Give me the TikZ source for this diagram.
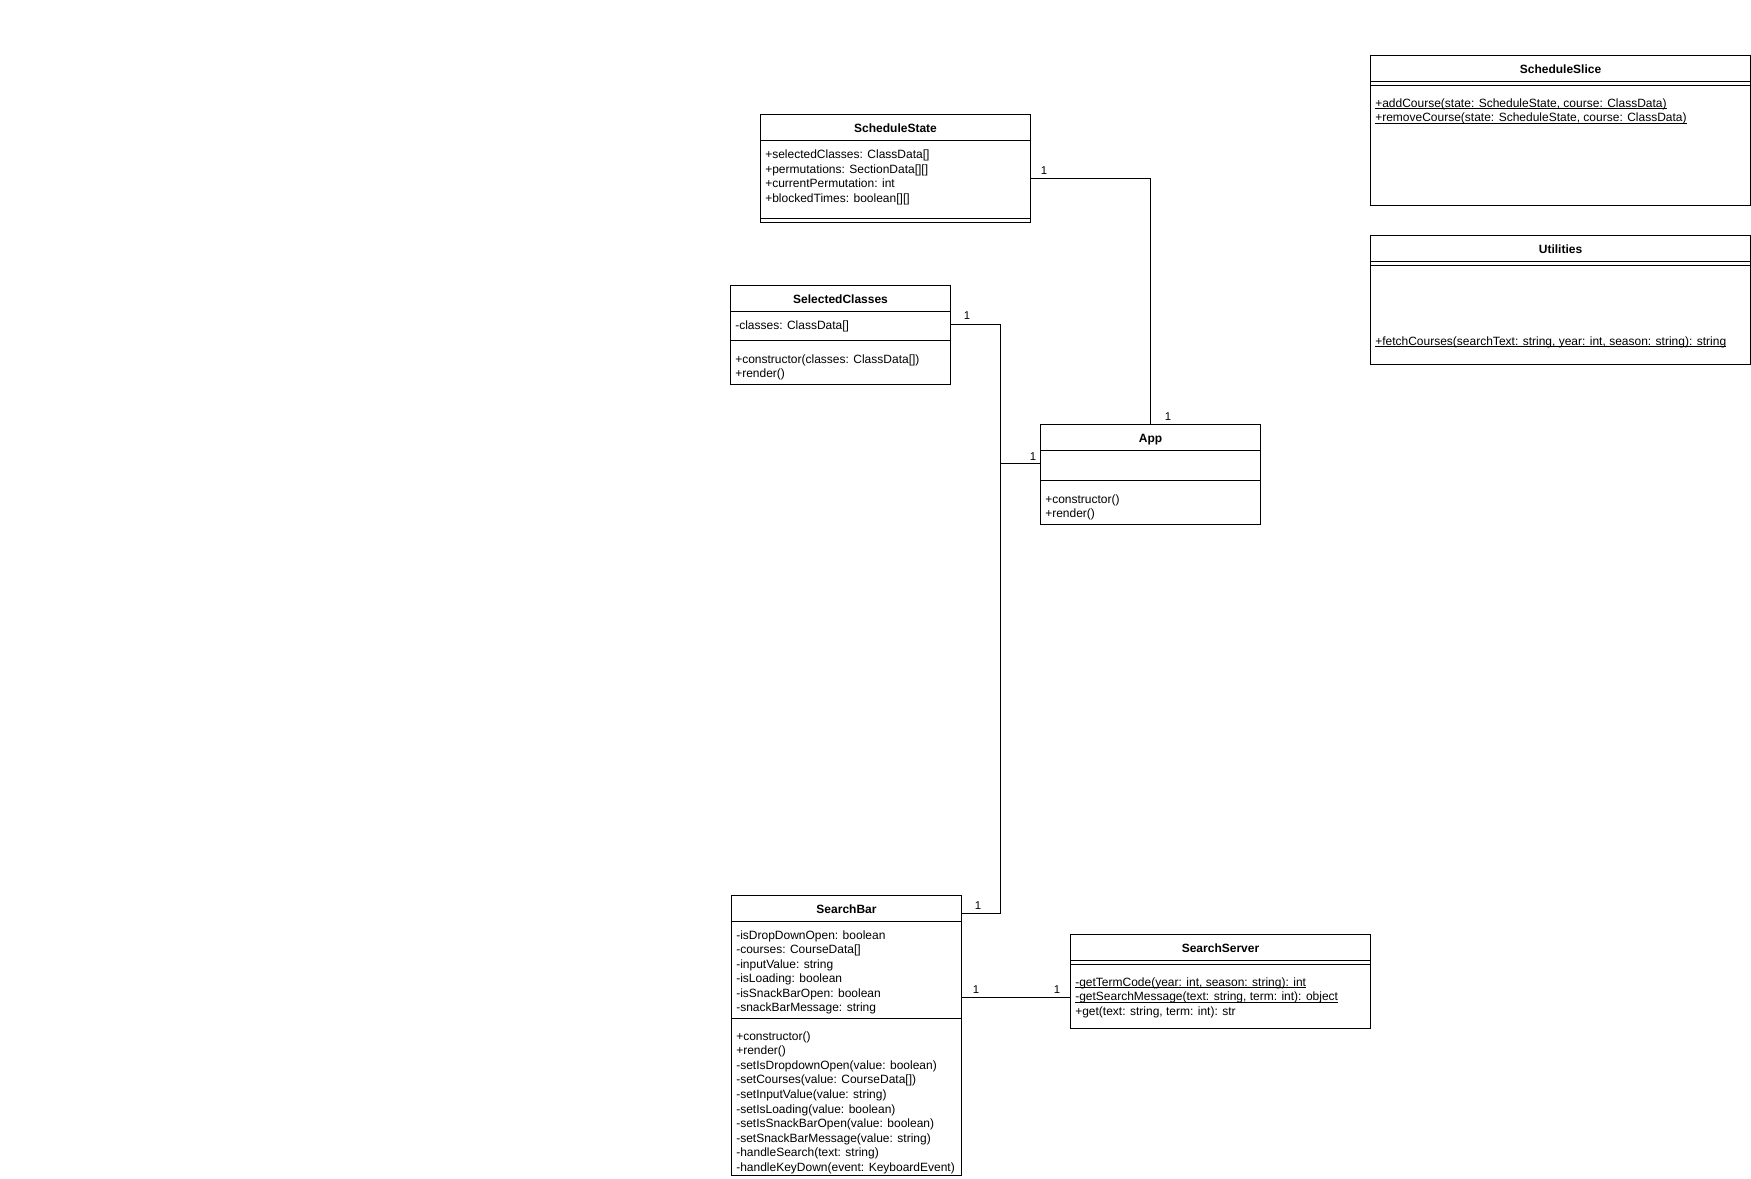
\documentclass[tikz,border=0pt]{standalone}
\usepackage{fontspec}
\setmainfont{Liberation Sans}
\usetikzlibrary{calc}

% static members are underlined at a fixed depth
\newcommand\stat[1]{\setbox0\hbox{#1}\rlap{\rule[-1.4pt]{\wd0}{0.55pt}}\box0}

\tikzset{
  cls/.style={draw, line width=0.75pt, inner sep=0pt, anchor=north west, fill=white},
  ctitle/.style={font=\bfseries\fontsize{9}{10.8}\selectfont, inner sep=0pt, anchor=base},
  member/.style={font=\fontsize{9}{10.8}\selectfont, inner sep=0pt, anchor=base west},
  mult/.style={font=\fontsize{8.5}{10}\selectfont, inner sep=0pt},
  conn/.style={line width=0.75pt},
  sep/.style={line width=0.75pt}
}

% class box: name, x, y, width, height, title
\newcommand\umlclass[6]{%
  \node[cls, minimum width=#4*0.75pt, minimum height=#5*0.75pt] (#1) at (#2,#3) {};
  \node[ctitle] (#1-t) at ($(#1.north)+(0,18.3)$) {#6};
  \draw[sep] ($(#1.north west)+(0,26)$) -- ($(#1.north east)+(0,26)$);
}
% horizontal compartment line at an offset below the top
\newcommand\hsep[2]{\draw[sep] ($(#1.north west)+(0,#2)$) -- ($(#1.north east)+(0,#2)$);}
% member lines: box, name prefix, first baseline offset, list
\newcommand\members[4]{%
  \foreach \t [count=\i] in {#4} {
    \node[member] (#2\i) at ($(#1.north west)+(5,#3+14.55*\i-14.55)$) {\t};
  }
}

\begin{document}
\begin{tikzpicture}[x=0.75pt,y=-0.75pt]
\fill[white] (0,0) rectangle (1751,1178);
\useasboundingbox (0,0) rectangle (1751,1178);

% ScheduleState
\umlclass{sstate}{760}{114}{270}{108}{ScheduleState}
\hsep{sstate}{104}
\members{sstate}{ssa}{44.5}{{+selectedClasses: ClassData[]},{+permutations: SectionData[][]},{+currentPermutation: int},{+blockedTimes: boolean[][]}}

% SelectedClasses
\umlclass{selcls}{730}{285}{220}{99}{SelectedClasses}
\hsep{selcls}{55.5}
\members{selcls}{sca}{44.5}{{-classes: ClassData[]}}
\members{selcls}{scm}{78}{{+constructor(classes: ClassData[])},{+render()}}

% App
\umlclass{app}{1040}{424}{220}{100}{App}
\hsep{app}{56}
\members{app}{apm}{79}{{+constructor()},{+render()}}

% ScheduleSlice
\umlclass{slice}{1370}{55}{380}{150}{ScheduleSlice}
\hsep{slice}{30}
\members{slice}{slm}{52}{{\stat{+addCourse(state: ScheduleState, course: ClassData)}},{\stat{+removeCourse(state: ScheduleState, course: ClassData)}}}

% Utilities
\umlclass{util}{1370}{235}{380}{129}{Utilities}
\hsep{util}{30}
\members{util}{utm}{110}{{\stat{+fetchCourses(searchText: string, year: int, season: string): string}}}

% SearchBar
\umlclass{sbar}{731}{895}{230}{280}{SearchBar}
\hsep{sbar}{123}
\members{sbar}{sba}{44.2}{{-isDropDownOpen: boolean},{-courses: CourseData[]},{-inputValue: string},{-isLoading: boolean},{-isSnackBarOpen: boolean},{-snackBarMessage: string}}
\members{sbar}{sbm}{145.3}{{+constructor()},{+render()},{-setIsDropdownOpen(value: boolean)},{-setCourses(value: CourseData[])},{-setInputValue(value: string)},{-setIsLoading(value: boolean)},{-setIsSnackBarOpen(value: boolean)},{-setSnackBarMessage(value: string)},{-handleSearch(text: string)},{-handleKeyDown(event: KeyboardEvent)}}

% SearchServer
\umlclass{sserver}{1070}{934}{300}{94}{SearchServer}
\hsep{sserver}{30}
\members{sserver}{svm}{52}{{\stat{-getTermCode(year: int, season: string): int}},{\stat{-getSearchMessage(text: string, term: int): object}},{+get(text: string, term: int): str}}

% associations
\coordinate (bus) at (1000,463);
\coordinate (appin) at ($(app.north west)+(0,39)$);
\draw[conn] ($(sstate.north east)+(0,64)$) -| (app.north);
\draw[conn] ($(selcls.north east)+(0,39)$) -| (bus) -- (appin);
\draw[conn] ($(sbar.north east)+(0,18.5)$) -| (bus);
\draw[conn] ($(sbar.north east)+(0,102)$) -- ($(sserver.north west)+(0,63)$);

% multiplicities
\node[mult] (m1) at (1044,171) {1};
\node[mult] (m2) at (1168,417) {1};
\node[mult] (m3) at (967,316) {1};
\node[mult] (m4) at (1033,457) {1};
\node[mult] (m5) at (978,906) {1};
\node[mult] (m6) at (976,990) {1};
\node[mult] (m7) at (1057,990) {1};
\end{tikzpicture}
\end{document}
